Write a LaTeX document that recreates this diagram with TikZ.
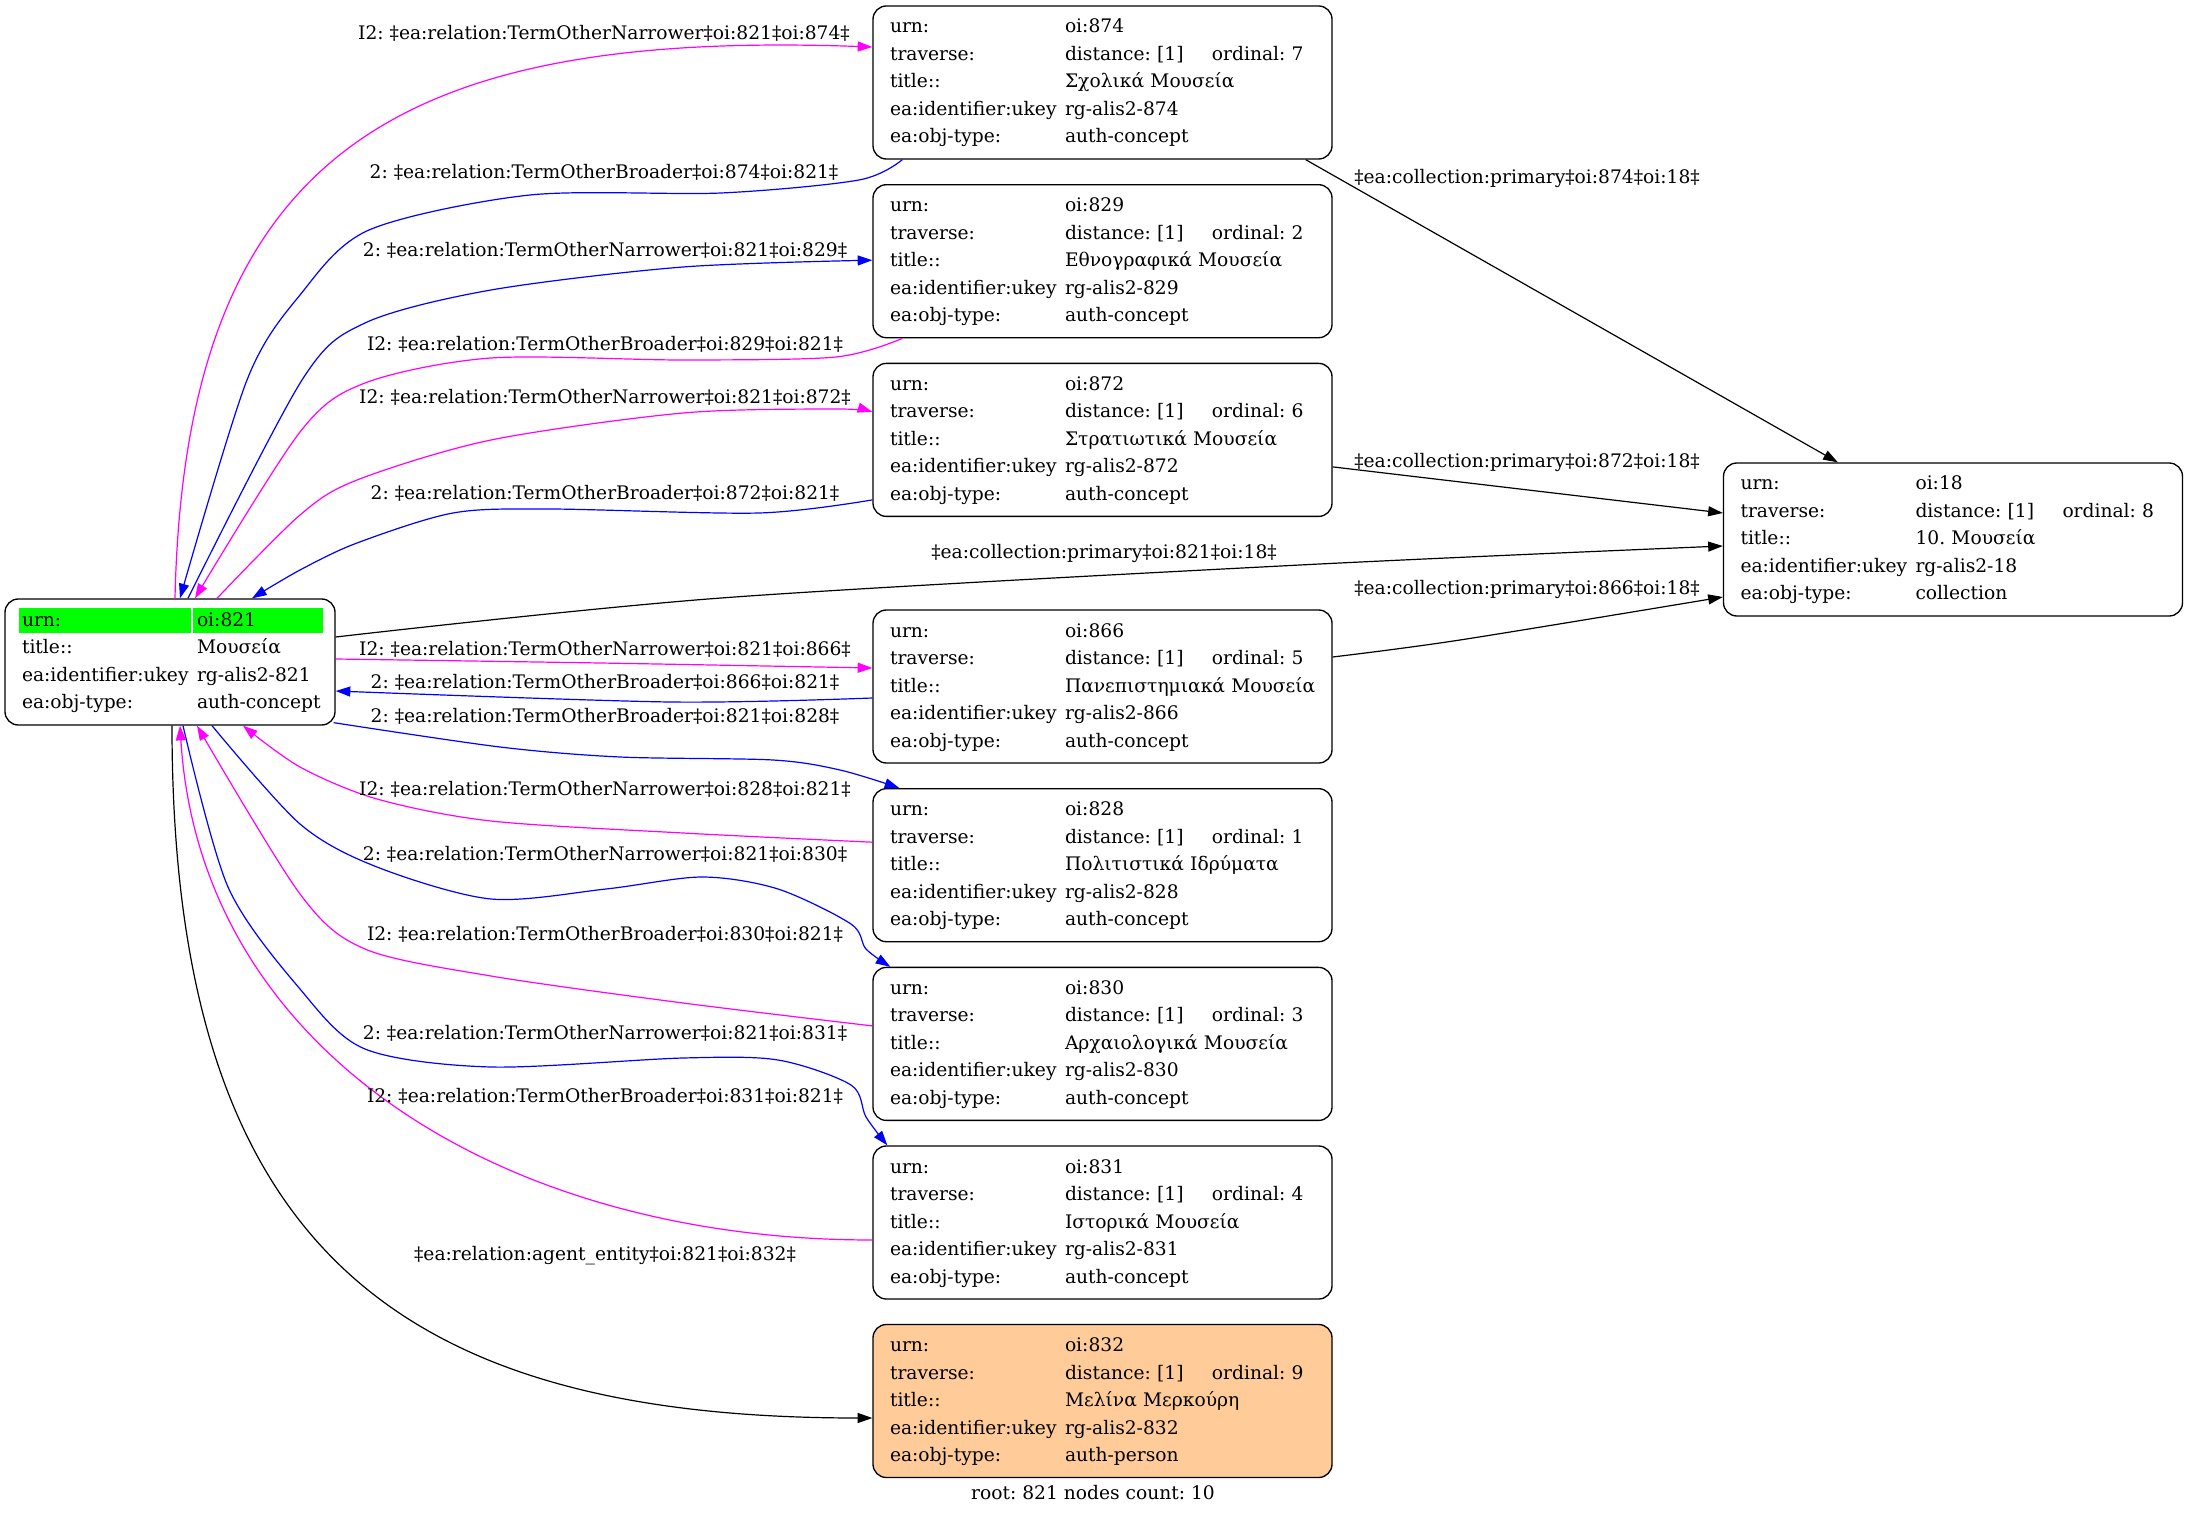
\documentclass[tikz,border=0pt]{standalone}
\usepackage{fontspec}
\setmainfont{DejaVu Serif}
\usetikzlibrary{arrows.meta,calc}
\definecolor{hlgreen}{HTML}{00FF00}
\definecolor{peach}{HTML}{FFCC99}
\definecolor{relpink}{HTML}{FF00FF}
\definecolor{relblue}{HTML}{0000FF}
\frenchspacing
% one row of a record: key, value, extra
\newcommand{\kv}[3]{\strut\makebox[131.25pt][l]{#1}\makebox[110.25pt][l]{#2}#3}
% highlighted first row of the root record
\newcommand{\hlrow}[2]{\strut{\setlength{\fboxsep}{0pt}\hspace*{-2.25pt}\colorbox{hlgreen}{\makebox[129pt][l]{\hspace*{2.25pt}#1\rule[-5.25pt]{0pt}{18.75pt}}}\hspace*{1.5pt}\colorbox{hlgreen}{\makebox[97.5pt][l]{\hspace*{3pt}#2\rule[-5.25pt]{0pt}{18.75pt}}}}}

\begin{document}
\begin{tikzpicture}[x=0.75pt,y=-0.75pt,
    every node/.style={font=\fontsize{14}{20.625}\selectfont},
    rec/.style={draw,line width=1pt,rounded corners=10pt,minimum height=114.75pt,
      text width=318.75pt,inner xsep=12.75pt,inner ysep=0pt,align=left},
    rootrec/.style={rec,text width=222pt,minimum height=94.5pt},
    elabel/.style={inner sep=0pt},
    >={Triangle[length=11pt,width=7.5pt]},
    pinkrel/.style={->,line width=0.9pt,relpink},
    bluerel/.style={->,line width=0.9pt,relblue},
    blackrel/.style={->,line width=0.9pt,black}]
    \useasboundingbox (0,0) rectangle (2188,1515);
    %RECORDS
    \node[rootrec] (n821) at (170,662) {\hlrow{urn:}{oi:821}\\
      \kv{title::}{Μουσεία}{}\\
      \kv{ea:identifier:ukey}{rg-alis2-821}{}\\
      \kv{ea:obj-type:}{auth-concept}{}};
    \node[rec] (n874) at (1102.5,82.5) {\kv{urn:}{oi:874}{}\\
      \kv{traverse:}{distance: [1]}{ordinal: 7}\\
      \kv{title::}{Σχολικά Μουσεία}{}\\
      \kv{ea:identifier:ukey}{rg-alis2-874}{}\\
      \kv{ea:obj-type:}{auth-concept}{}};
    \node[rec] (n829) at (1102.5,261.2) {\kv{urn:}{oi:829}{}\\
      \kv{traverse:}{distance: [1]}{ordinal: 2}\\
      \kv{title::}{Εθνογραφικά Μουσεία}{}\\
      \kv{ea:identifier:ukey}{rg-alis2-829}{}\\
      \kv{ea:obj-type:}{auth-concept}{}};
    \node[rec] (n872) at (1102.5,439.9) {\kv{urn:}{oi:872}{}\\
      \kv{traverse:}{distance: [1]}{ordinal: 6}\\
      \kv{title::}{Στρατιωτικά Μουσεία}{}\\
      \kv{ea:identifier:ukey}{rg-alis2-872}{}\\
      \kv{ea:obj-type:}{auth-concept}{}};
    \node[rec] (n866) at (1102.5,686.5) {\kv{urn:}{oi:866}{}\\
      \kv{traverse:}{distance: [1]}{ordinal: 5}\\
      \kv{title::}{Πανεπιστημιακά Μουσεία}{}\\
      \kv{ea:identifier:ukey}{rg-alis2-866}{}\\
      \kv{ea:obj-type:}{auth-concept}{}};
    \node[rec] (n828) at (1102.5,865.2) {\kv{urn:}{oi:828}{}\\
      \kv{traverse:}{distance: [1]}{ordinal: 1}\\
      \kv{title::}{Πολιτιστικά Ιδρύματα}{}\\
      \kv{ea:identifier:ukey}{rg-alis2-828}{}\\
      \kv{ea:obj-type:}{auth-concept}{}};
    \node[rec] (n830) at (1102.5,1043.9) {\kv{urn:}{oi:830}{}\\
      \kv{traverse:}{distance: [1]}{ordinal: 3}\\
      \kv{title::}{Αρχαιολογικά Μουσεία}{}\\
      \kv{ea:identifier:ukey}{rg-alis2-830}{}\\
      \kv{ea:obj-type:}{auth-concept}{}};
    \node[rec] (n831) at (1102.5,1222.5) {\kv{urn:}{oi:831}{}\\
      \kv{traverse:}{distance: [1]}{ordinal: 4}\\
      \kv{title::}{Ιστορικά Μουσεία}{}\\
      \kv{ea:identifier:ukey}{rg-alis2-831}{}\\
      \kv{ea:obj-type:}{auth-concept}{}};
    \node[rec,fill=peach] (n832) at (1102.5,1401) {\kv{urn:}{oi:832}{}\\
      \kv{traverse:}{distance: [1]}{ordinal: 9}\\
      \kv{title::}{Μελίνα Μερκούρη}{}\\
      \kv{ea:identifier:ukey}{rg-alis2-832}{}\\
      \kv{ea:obj-type:}{auth-person}{}};
    \node[rec] (n18) at (1953,539.5) {\kv{urn:}{oi:18}{}\\
      \kv{traverse:}{distance: [1]}{ordinal: 8}\\
      \kv{title::}{10. Μουσεία}{}\\
      \kv{ea:identifier:ukey}{rg-alis2-18}{}\\
      \kv{ea:obj-type:}{collection}{}};
    \node (caption) at (1093,1493) {root: 821 nodes count: 10};
    %NARROWER / BROADER
    \draw[pinkrel] ($(n821.north)+(5,0)$) .. controls (185,150) and (400,30) .. ($(n874.west)+(0,-35.5)$);
    \draw[bluerel] plot[smooth] coordinates {($(n874.south west)+(30,0)$) (859,180) (721,193) (530,195) (369,230) (300,295) (247,380) ($(n821.north)+(10,0)$)};
    \draw[bluerel] plot[smooth] coordinates {($(n821.north)+(18,0)$) (302,380) (365,323) (491,290) (683,267) ($(n829.west)+(0,-1)$)};
    \draw[pinkrel] plot[smooth] coordinates {($(n829.south west)+(30,0)$) (836,357) (683,360) (491,358) (365,383) (300,432) ($(n821.north)+(25,0)$)};
    \draw[pinkrel] plot[smooth] coordinates {($(n821.north)+(47,0)$) (300,515) (357,480) (491,440) (683,413) (836,409) ($(n872.west)+(0,-28)$)};
    \draw[bluerel] plot[smooth] coordinates {($(n872.west)+(0,60)$) (759,513) (549,509) (453,513) (357,543) (300,570) ($(n821.north)+(82,0)$)};
    \draw[pinkrel] plot[smooth] coordinates {($(n821.east)+(0,-3)$) (600,663) ($(n866.west)+(0,-18.5)$)};
    \draw[bluerel] plot[smooth] coordinates {($(n866.west)+(0,11.5)$) (670,702) ($(n821.east)+(0,29)$)};
    \draw[bluerel] plot[smooth] coordinates {($(n821.south east)+(-2,-3)$) (500,747) (620,757) (773,760) (840,770) ($(n828.north west)+(27,0)$)};
    \draw[pinkrel] plot[smooth] coordinates {($(n828.west)+(0,-23)$) (683,833) (491,821) (377,799) (300,767) ($(n821.south)+(73,0)$)};
    \draw[bluerel] plot[smooth] coordinates {($(n821.south)+(42,0)$) (300,824) (377,867) (491,899) (606,889) (702,877) (778,889) (851,924) (866,949) ($(n830.north west)+(18,0)$)};
    \draw[pinkrel] plot[smooth] coordinates {($(n830.west)+(0,-18)$) (683,1003) (491,976) (365,949) (300,894) ($(n821.south)+(27,0)$)};
    \draw[bluerel] plot[smooth] coordinates {($(n821.south)+(13,0)$) (228,887) (300,989) (365,1049) (491,1067) (683,1058) (778,1060) (851,1085) (866,1117) ($(n831.north west)+(15,0)$)};
    \draw[pinkrel] ($(n831.west)+(0,17.5)$) .. controls (500,1240) and (200,1050) .. ($(n821.south)+(10,0)$);
    %COLLECTION / AGENT
    \draw[blackrel] ($(n874.south east)+(-27,0)$) -- ($(n18.north west)+(115,0)$);
    \draw[blackrel] ($(n872.east)+(0,27)$) -- ($(n18.west)+(0,-26.5)$);
    \draw[blackrel] plot[smooth] coordinates {($(n821.east)+(0,-25)$) (721,598) (1300,565) ($(n18.west)+(0,6.5)$)};
    \draw[blackrel] plot[smooth] coordinates {($(n866.east)+(0,-29.5)$) (1460,640) ($(n18.west)+(0,57.5)$)};
    \draw[blackrel] ($(n821.south)+(2,0)$) .. controls (172,1250) and (400,1418) .. ($(n832.west)+(0,17)$);
    %LABELS
    \node[elabel] (l1) at (604,33) {I2: ‡ea:relation:TermOtherNarrower‡oi:821‡oi:874‡};
    \node[elabel] (l2) at (604,172) {2: ‡ea:relation:TermOtherBroader‡oi:874‡oi:821‡};
    \node[elabel] (l3) at (605,250) {2: ‡ea:relation:TermOtherNarrower‡oi:821‡oi:829‡};
    \node[elabel] (l4) at (605,344) {I2: ‡ea:relation:TermOtherBroader‡oi:829‡oi:821‡};
    \node[elabel] (l5) at (605,397) {I2: ‡ea:relation:TermOtherNarrower‡oi:821‡oi:872‡};
    \node[elabel] (l6) at (605,493) {2: ‡ea:relation:TermOtherBroader‡oi:872‡oi:821‡};
    \node[elabel] (l7) at (1527,178) {‡ea:collection:primary‡oi:874‡oi:18‡};
    \node[elabel] (l8) at (1527,462) {‡ea:collection:primary‡oi:872‡oi:18‡};
    \node[elabel] (l9) at (1104,553) {‡ea:collection:primary‡oi:821‡oi:18‡};
    \node[elabel] (l10) at (1527,589) {‡ea:collection:primary‡oi:866‡oi:18‡};
    \node[elabel] (l11) at (605,649) {I2: ‡ea:relation:TermOtherNarrower‡oi:821‡oi:866‡};
    \node[elabel] (l12) at (605,682) {2: ‡ea:relation:TermOtherBroader‡oi:866‡oi:821‡};
    \node[elabel] (l13) at (605,716) {2: ‡ea:relation:TermOtherBroader‡oi:821‡oi:828‡};
    \node[elabel] (l14) at (605,789) {I2: ‡ea:relation:TermOtherNarrower‡oi:828‡oi:821‡};
    \node[elabel] (l15) at (605,854) {2: ‡ea:relation:TermOtherNarrower‡oi:821‡oi:830‡};
    \node[elabel] (l16) at (605,934) {I2: ‡ea:relation:TermOtherBroader‡oi:830‡oi:821‡};
    \node[elabel] (l17) at (605,1033) {2: ‡ea:relation:TermOtherNarrower‡oi:821‡oi:831‡};
    \node[elabel] (l18) at (605,1096) {I2: ‡ea:relation:TermOtherBroader‡oi:831‡oi:821‡};
    \node[elabel] (l19) at (605,1256) {‡ea:relation:agent\_entity‡oi:821‡oi:832‡};
  \end{tikzpicture}
\end{document}
